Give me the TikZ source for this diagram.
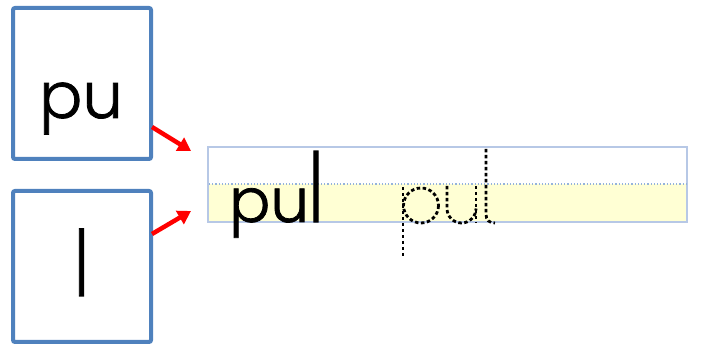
\documentclass[tikz,border=0pt]{standalone}
\usepackage{fontspec}
\newfontfamily\schoolfont[FakeBold=1.3]{Poppins Light}
\usetikzlibrary{arrows.meta}
\definecolor{boxblue}{HTML}{4F81BD}
\definecolor{lineblue}{HTML}{B7C8E6}
\definecolor{dotblue}{HTML}{94B3DB}
\definecolor{padyellow}{HTML}{FFFFD4}
\definecolor{arrowred}{HTML}{FF0000}
\tikzset{
  letterbox/.style={draw=boxblue, line width=4pt, rounded corners=2pt, minimum width=138pt, minimum height=151pt, inner sep=0pt},
  redarrow/.style={draw=arrowred, line width=4.5pt, -{Triangle[length=13pt,width=15pt]}},
  tracing/.style={draw=black, line width=2.8pt, dash pattern=on 3.5pt off 2.5pt},
  boxletters/.style={inner sep=0pt, anchor=base west, font=\schoolfont\fontsize{64}{64}\selectfont},
  wordletters/.style={inner sep=0pt, anchor=base west, font=\schoolfont\fontsize{61}{61}\selectfont},
}
\begin{document}
\begin{tikzpicture}[x=1pt,y=-1pt]
\useasboundingbox (0,0) rectangle (702,344);
% letter boxes
\node[letterbox] (box1) at (82,83.5) {};
\node[letterbox] (box2) at (82,266.5) {};
\node[boxletters] (pu) at (39,118) {pu};
\node[boxletters] (l1) at (74,296) {\scalebox{1}[1.42]{l}};
% writing line
\fill[padyellow] (208,184) rectangle (687,222);
\node[draw=lineblue, line width=1.5pt, minimum width=479pt, minimum height=75pt, inner sep=0pt] (pad) at (447.5,184.5) {};
\coordinate (midL) at (209,184);
\coordinate (midR) at (686,184);
\draw[dotblue, line width=1.2pt, dotted] (midL) -- (midR);
% arrows
\coordinate (a1s) at (152,127);
\coordinate (a1e) at (191,151);
\coordinate (a2s) at (152,234);
\coordinate (a2e) at (191,211);
\draw[redarrow] (a1s) -- (a1e);
\draw[redarrow] (a2s) -- (a2e);
% solid word
\node[wordletters] (pul) at (229,222) {pu\scalebox{1}[1.57]{l}};
% tracing word (dashed)
\draw[tracing] (403,187) -- (403,258);
\draw[tracing] (421,205.5) circle [radius=17.5];
\draw[tracing] (447,186) -- (447,208.5) arc[start angle=180, end angle=0, radius=14.5];
\draw[tracing] (476,186) -- (476,223);
\draw[tracing] (486,149) -- (486,214) .. controls (486,220) and (489,223) .. (495,223);
\end{tikzpicture}
\end{document}
